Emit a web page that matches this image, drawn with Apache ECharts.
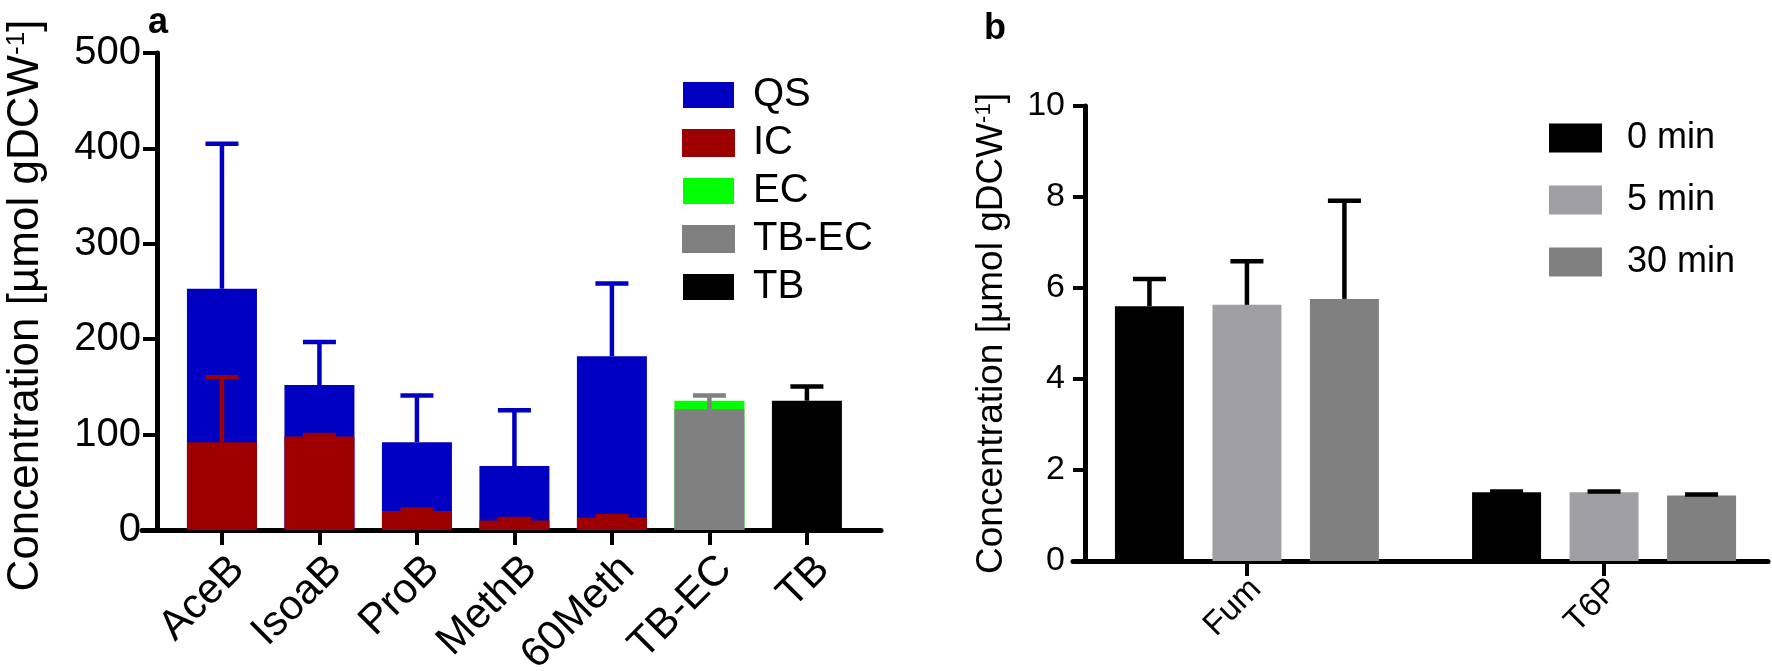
<!DOCTYPE html>
<html>
<head>
<meta charset="utf-8">
<script src="https://cdn.jsdelivr.net/npm/echarts@6/dist/echarts.min.js"></script>
<style>
  html, body { margin: 0; padding: 0; background: #fff; }
  #chart { width: 1772px; height: 671px; }
</style>
</head>
<body>
<div id="chart"></div>
<script>
// panel a: pool sizes per strain (segment heights) and their SDs
const strains = ['AceB', 'IsoaB', 'ProB', 'MethB', '60Meth', 'TB-EC', 'TB'];
const icMean = [92, 98, 20, 10, 13, null, null];
const icSd = [68, 1.5, 1.5, 1.5, 1.5, null, null];
const qsMean = [161, 54, 72, 57, 169, null, null];
const qsSd = [152, 45, 49, 58.5, 76.5, null, null];
const tbecMean = [null, null, null, null, null, 126.5, null];
const tbecSd = [null, null, null, null, null, 14.5, null];
const ecMean = [null, null, null, null, null, 9, null];
const tbMean = [null, null, null, null, null, null, 135.5];
const tbSd = [null, null, null, null, null, null, 15];

// panel b: metabolite concentrations over time
const metabolites = ['Fum', 'T6P'];
const timepoints = ['0 min', '5 min', '30 min'];
const mean0 = [5.60, 1.51];
const mean5 = [5.63, 1.51];
const mean30 = [5.76, 1.44];
const sd0 = [0.60, 0.02];
const sd5 = [0.96, 0.02];
const sd30 = [2.16, 0.02];

const FONT = '"Liberation Sans", Arial, Helvetica, sans-serif';
const BAR_A = 70;
const BAR_B = 69;
const GAP_B = 28.5;
const CAP = 33;
const ERR_W = 4.5;

const pairs = (vals) => vals.map((v, i) => [i, v]).filter((d) => d[1] != null);

// the stacked look: upper segment is drawn as the running total, lower segment over it
const qsTop = qsMean.map((v, i) => (v == null ? null : v + icMean[i]));
const ecTop = ecMean.map((v, i) => (v == null ? null : v + tbecMean[i]));

const barA = (name, vals, color, edge) => ({
    type: 'bar', name, xAxisIndex: 0, yAxisIndex: 0,
    barWidth: BAR_A, barGap: '-100%', data: pairs(vals), z: 2,
    itemStyle: edge ? { color, borderColor: color, borderWidth: edge } : { color },
});

/**
 * Error bar drawn from the top of a segment to top + sd.
 */
const errSeries = (axis, tops, sds, color, offsetPx) => ({
    type: 'custom', xAxisIndex: axis, yAxisIndex: axis, z: 5, clip: false,
    encode: { x: 0, y: [1, 2] },
    data: tops.map((t, i) => [i, t, t + (sds[i] || 0)]).filter((d, i) => d[1] != null && sds[i] != null),
    renderItem: (params, api) => {
        const base = api.coord([api.value(0), api.value(1)]);
        const tip = api.coord([api.value(0), api.value(2)]);
        const x = base[0] + offsetPx;
        const style = { stroke: color, lineWidth: ERR_W };
        return {
            type: 'group',
            children: [
                { type: 'line', shape: { x1: x, y1: base[1], x2: x, y2: tip[1] }, style },
                { type: 'line', shape: { x1: x - CAP / 2, y1: tip[1], x2: x + CAP / 2, y2: tip[1] }, style },
            ],
        };
    },
});

const axisLine = { show: true, onZero: false, lineStyle: { color: '#000', width: 5 } };
const yName = 'Concentration [µmol gDCW{sup|-1}]';
const barGapB = (GAP_B / BAR_B * 100) + '%';

const chart = echarts.init(document.getElementById('chart'));
chart.setOption({
    animation: false,
    backgroundColor: '#fff',
    textStyle: { fontFamily: FONT },
    title: [
        { text: 'a', left: 143, top: 0, textStyle: { fontSize: 36, fontWeight: 'bold', color: '#000', fontFamily: FONT } },
        { text: 'b', left: 979, top: 6, textStyle: { fontSize: 36, fontWeight: 'bold', color: '#000', fontFamily: FONT } },
    ],
    grid: [
        { left: 142, right: 891, top: 53, bottom: 141, containLabel: false, outerBoundsMode: 'none' },
        { left: 1073, right: 4, top: 106, bottom: 110, containLabel: false, outerBoundsMode: 'none' },
    ],
    legend: [
        {
            data: ['QS', 'IC', 'EC', 'TB-EC', 'TB'], orient: 'vertical', left: 682, top: 75, padding: 0,
            itemWidth: 51, itemHeight: 26, itemGap: 8, icon: 'rect', selectedMode: false,
            textStyle: { fontSize: 40, color: '#000', fontFamily: FONT, padding: [0, 0, 0, 14] },
        },
        {
            data: timepoints, orient: 'vertical', left: 1549, top: 120, padding: 0,
            itemWidth: 53, itemHeight: 29, itemGap: 26, icon: 'rect', selectedMode: false,
            textStyle: { fontSize: 36, color: '#000', fontFamily: FONT, padding: [0, 0, 0, 20] },
        },
    ],
    xAxis: [
        {
            type: 'value', gridIndex: 0, min: -0.82, max: 6.76,
            axisLine: { ...axisLine },
            axisTick: { show: true, customValues: strains.map((s, i) => i), length: 15, lineStyle: { color: '#000', width: 4 } },
            axisLabel: {
                customValues: strains.map((s, i) => i), formatter: (v) => strains[v] || '',
                rotate: 45, fontSize: 42, lineHeight: 45, verticalAlign: 'top', margin: 17,
                color: '#000', fontFamily: FONT,
            },
            splitLine: { show: false },
        },
        {
            type: 'value', gridIndex: 1, min: -0.487, max: 1.459,
            axisLine: { ...axisLine },
            axisTick: { show: true, customValues: metabolites.map((s, i) => i), length: 15, lineStyle: { color: '#000', width: 4 } },
            axisLabel: {
                customValues: metabolites.map((s, i) => i), formatter: (v) => metabolites[v] || '',
                rotate: 45, fontSize: 33, lineHeight: 26, verticalAlign: 'top', margin: 14,
                color: '#000', fontFamily: FONT,
            },
            splitLine: { show: false },
        },
    ],
    yAxis: [
        {
            type: 'value', gridIndex: 0, min: 0, max: 500, interval: 100, offset: -15,
            axisLine: { ...axisLine },
            axisTick: { show: true, length: 14, lineStyle: { color: '#000', width: 4 } },
            axisLabel: { fontSize: 40, margin: 16, color: '#000', fontFamily: FONT },
            splitLine: { show: false },
            name: yName, nameLocation: 'middle', nameGap: 109, nameRotate: 90,
            nameTextStyle: {
                fontSize: 44, color: '#000', fontFamily: FONT, padding: [0, 28, 0, 0],
                rich: { sup: { fontSize: 26, verticalAlign: 'top', color: '#000', fontFamily: FONT } },
            },
        },
        {
            type: 'value', gridIndex: 1, min: 0, max: 10, interval: 2, offset: -12,
            axisLine: { ...axisLine },
            axisTick: { show: true, length: 12, lineStyle: { color: '#000', width: 4 } },
            axisLabel: { fontSize: 34, margin: 20, color: '#000', fontFamily: FONT },
            splitLine: { show: false },
            name: yName, nameLocation: 'middle', nameGap: 75, nameRotate: 90,
            nameTextStyle: {
                fontSize: 37, color: '#000', fontFamily: FONT,
                rich: { sup: { fontSize: 22, verticalAlign: 'top', color: '#000', fontFamily: FONT } },
            },
        },
    ],
    series: [
        barA('QS', qsTop, '#0000c2', 0),
        barA('IC', icMean, '#9e0000', 2),
        barA('EC', ecTop, '#00ff00', 0),
        barA('TB-EC', tbecMean, '#808080', 3),
        barA('TB', tbMean, '#000000', 0),
        errSeries(0, qsTop, qsSd, '#0000c2', 0),
        errSeries(0, icMean, icSd, '#9e0000', 0),
        errSeries(0, tbecMean, tbecSd, '#808080', 0),
        errSeries(0, tbMean, tbSd, '#000000', 0),

        { type: 'bar', name: '0 min', xAxisIndex: 1, yAxisIndex: 1, barWidth: BAR_B, barGap: barGapB, itemStyle: { color: '#000000' }, data: pairs(mean0) },
        { type: 'bar', name: '5 min', xAxisIndex: 1, yAxisIndex: 1, barWidth: BAR_B, barGap: barGapB, itemStyle: { color: '#a0a0a4' }, data: pairs(mean5) },
        { type: 'bar', name: '30 min', xAxisIndex: 1, yAxisIndex: 1, barWidth: BAR_B, barGap: barGapB, itemStyle: { color: '#808080' }, data: pairs(mean30) },
        errSeries(1, mean0, sd0, '#000000', -(BAR_B + GAP_B)),
        errSeries(1, mean5, sd5, '#000000', 0),
        errSeries(1, mean30, sd30, '#000000', BAR_B + GAP_B),
    ],
});
</script>
</body>
</html>
